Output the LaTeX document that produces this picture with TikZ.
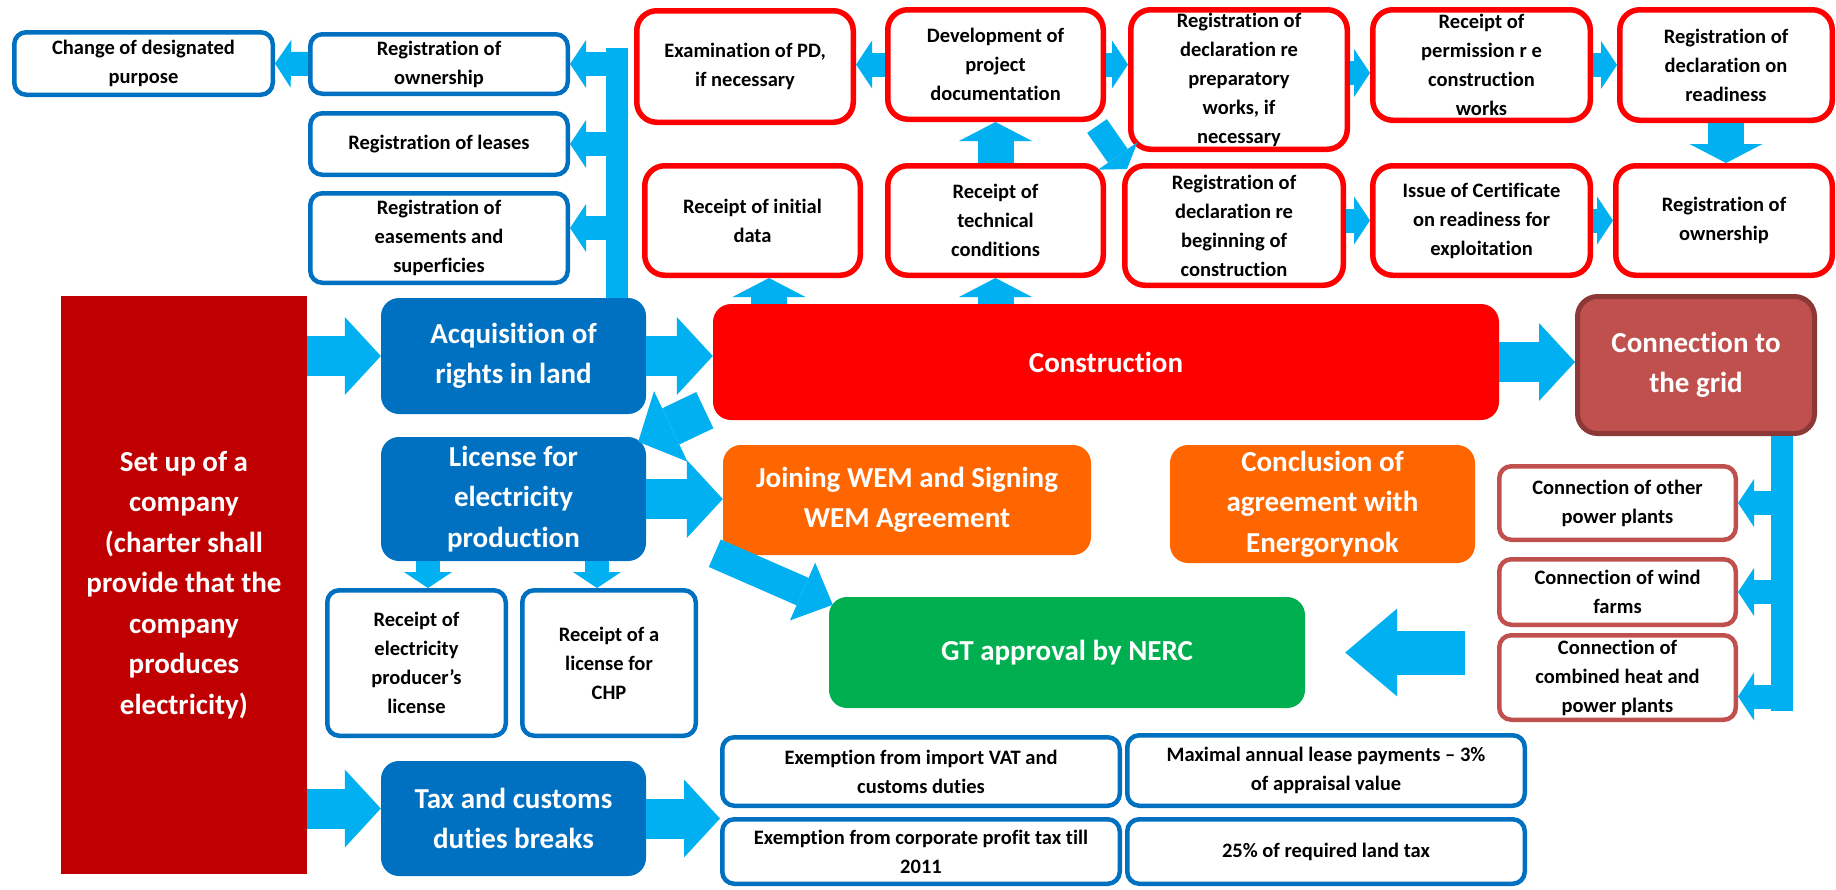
\documentclass[tikz,border=0pt]{standalone}
\usepackage{fontspec}
\setmainfont{Carlito}[Ligatures={TeX,NoCommon}]
\usetikzlibrary{arrows.meta}

\definecolor{landblue}{HTML}{0070C0}
\definecolor{flowblue}{HTML}{00B0F0}
\definecolor{buildred}{HTML}{FF0000}
\definecolor{firmred}{HTML}{C00000}
\definecolor{gridred}{HTML}{C0504D}
\definecolor{gridedge}{HTML}{8C3836}
\definecolor{wemorange}{HTML}{FF6600}
\definecolor{nercgreen}{HTML}{00B050}

\newcommand{\boxtext}{\fontsize{20.5}{29}\selectfont\bfseries}
\newcommand{\headtext}{\fontsize{29}{40.5}\selectfont\bfseries}

\tikzset{
	plainbox/.style={rectangle, inner sep=0pt, align=center},
	blueline/.style={plainbox, draw=landblue, line width=4.5pt, rounded corners=12pt, fill=white, font=\boxtext},
	redline/.style={plainbox, draw=buildred, line width=5.5pt, rounded corners=20pt, fill=white, font=\boxtext},
	gridline/.style={plainbox, draw=gridred, line width=4.5pt, rounded corners=12pt, fill=white, font=\boxtext},
	headbox/.style={plainbox, fill=#1, rounded corners=18pt, text=white, font=\headtext},
	flowbar/.style={flowblue, line width=22pt},
	smallflow/.style={flowblue, line width=24pt, -{Triangle[length=16pt, width=48pt, line width=0pt]}},
	upflow/.style={flowblue, line width=36pt, -{Triangle[length=19pt, width=73pt, line width=0pt]}},
	midflow/.style={flowblue, line width=30pt, -{Triangle[length=33pt, width=63pt, line width=0pt]}},
	bigflow/.style={flowblue, line width=40pt, -{Triangle[length=36pt, width=78pt, line width=0pt]}},
	hugeflow/.style={flowblue, line width=44pt, -{Triangle[length=52pt, width=88pt, line width=0pt]}}
}

\begin{document}
\begin{tikzpicture}[x=1pt, y=-1pt]
	\useasboundingbox (0,0) rectangle (1836,889);

	\node [plainbox, fill=firmred, text=white, font=\headtext, minimum width=246pt, minimum height=578pt] (setup) at (184, 585) {Set up of a\\company\\(charter shall\\provide that the\\company\\produces\\electricity)};

	\node [headbox=landblue, minimum width=265pt, minimum height=116pt] (acq) at (513.5, 356) {Acquisition of\\rights in land};
	\node [headbox=landblue, minimum width=265pt, minimum height=124pt] (lic) at (513.5, 499) {License for\\electricity\\production};
	\node [headbox=landblue, minimum width=265pt, minimum height=115pt] (tax) at (513.5, 818.5) {Tax and customs\\duties breaks};

	\node [blueline, minimum width=258.5pt, minimum height=62.5pt] (chg) at (143.5, 63.5) {Change of designated\\purpose};
	\node [blueline, minimum width=257.5pt, minimum height=59.5pt] (regown) at (439, 64) {Registration of\\ownership};
	\node [blueline, minimum width=257.5pt, minimum height=61.5pt] (regls) at (439, 144) {Registration of leases};
	\node [blueline, minimum width=257.5pt, minimum height=89.5pt] (regeas) at (439, 238) {Registration of\\easements and\\superficies};
	\node [blueline, minimum width=178.5pt, minimum height=145.5pt] (rprod) at (416.5, 663) {Receipt of\\electricity\\producer’s\\license};
	\node [blueline, minimum width=173.5pt, minimum height=145.5pt] (rchp) at (609, 663) {Receipt of a\\license for\\CHP};

	\node [blueline, minimum width=397.5pt, minimum height=68.5pt] (exvat) at (921, 771.5) {Exemption from import VAT and\\customs duties};
	\node [blueline, minimum width=397.5pt, minimum height=70.5pt] (exlease) at (1326, 770.5) {Maximal annual lease payments – 3\%\\of appraisal value};
	\node [blueline, minimum width=397.5pt, minimum height=64.5pt] (excorp) at (921, 851.5) {Exemption from corporate profit tax till\\2011};
	\node [blueline, minimum width=397.5pt, minimum height=64.5pt] (exland) at (1326, 851.5) {25\% of required land tax};

	\node [redline, minimum width=216.5pt, minimum height=111.5pt] (exam) at (745, 66.5) {Examination of PD,\\if necessary};
	\node [redline, minimum width=215.5pt, minimum height=109.5pt] (dev) at (995.5, 64.5) {Development of\\project\\documentation};
	\node [redline, minimum width=216.5pt, minimum height=139.5pt] (prep) at (1239, 79.5) {Registration of\\declaration re\\preparatory\\works, if\\necessary};
	\node [redline, minimum width=217.5pt, minimum height=110.5pt] (perm) at (1481.5, 65) {Receipt of\\permission r e\\construction\\works};
	\node [redline, minimum width=212.5pt, minimum height=110.5pt] (ready) at (1726, 65) {Registration of\\declaration on\\readiness};
	\node [redline, minimum width=215.5pt, minimum height=109.5pt] (rinit) at (752.5, 220.5) {Receipt of initial\\data};
	\node [redline, minimum width=215.5pt, minimum height=109.5pt] (rtech) at (995.5, 220.5) {Receipt of\\technical\\conditions};
	\node [redline, minimum width=218.5pt, minimum height=119.5pt] (rbegin) at (1234, 225.5) {Registration of\\declaration re\\beginning of\\construction};
	\node [redline, minimum width=217.5pt, minimum height=109.5pt] (issue) at (1481.5, 220.5) {Issue of Certificate\\on readiness for\\exploitation};
	\node [redline, minimum width=216.5pt, minimum height=109.5pt] (regfin) at (1724, 220.5) {Registration of\\ownership};

	\node [headbox=buildred, minimum width=786pt, minimum height=116pt] (constr) at (1106, 362) {Construction};
	\node [headbox=gridred, draw=gridedge, line width=5pt, rounded corners=20pt, minimum width=237pt, minimum height=137pt] (conn) at (1696, 365) {Connection to\\the grid};
	\node [headbox=wemorange, minimum width=368pt, minimum height=110pt] (wem) at (907, 500) {Joining WEM and Signing\\WEM Agreement};
	\node [headbox=wemorange, minimum width=305pt, minimum height=118pt] (concl) at (1322.5, 504) {Conclusion of\\agreement with\\Energorynok};
	\node [headbox=nercgreen, minimum width=476pt, minimum height=111pt] (gt) at (1067, 652.5) {GT approval by NERC};

	\node [gridline, minimum width=236.5pt, minimum height=73.5pt] (cother) at (1617.5, 503) {Connection of other\\power plants};
	\node [gridline, minimum width=236.5pt, minimum height=65.5pt] (cwind) at (1617.5, 592) {Connection of wind\\farms};
	\node [gridline, minimum width=236.5pt, minimum height=84.5pt] (cchp) at (1617.5, 677.5) {Connection of\\combined heat and\\power plants};

	\coordinate (ltop) at (617, 48);
	\coordinate (rbot) at (1782, 711);
	\coordinate (easarr) at ([yshift=10pt]regeas.east);
	\coordinate (chparr) at ([yshift=-19pt]cchp.east);
	\coordinate (taxarr) at ([yshift=10pt]tax.west);

	\draw [flowbar] (acq.north -| ltop) -- (ltop);
	\draw [smallflow] (ltop |- regown.east) -- (regown.east);
	\draw [smallflow] (ltop |- regls.east) -- (regls.east);
	\draw [smallflow] (ltop |- easarr) -- (easarr);
	\draw [smallflow] (regown.west) -- (chg.east);

	\draw [flowbar] (conn.south -| rbot) -- (rbot);
	\draw [smallflow] (rbot |- cother.east) -- (cother.east);
	\draw [smallflow] (rbot |- cwind.east) -- (cwind.east);
	\draw [smallflow] (rbot |- chparr) -- (chparr);

	\draw [bigflow] (setup.east |- acq.west) -- (acq.west);
	\draw [bigflow] (setup.east |- taxarr) -- (taxarr);
	\draw [bigflow] (acq.east) -- (acq.east -| constr.west);
	\draw [bigflow] (lic.east) -- (lic.east -| wem.west);
	\draw [bigflow] (tax.east) -- (tax.east -| exvat.west);
	\draw [bigflow] (constr.east) -- (constr.east -| conn.west);
	\draw [bigflow] ([xshift=-8pt, yshift=10pt]constr.south west) -- ([xshift=-8pt, yshift=-5pt]lic.north east);
	\draw [midflow] ([xshift=-8pt, yshift=2pt]wem.south west) -- ([xshift=4pt, yshift=-8pt]gt.north west);
	\draw [hugeflow, shorten <=32pt, shorten >=40pt] (cwind.west |- gt.east) -- (gt.east);

	\draw [smallflow] (lic.south -| 428,0) -- (rprod.north -| 428,0);
	\draw [smallflow] (lic.south -| 597,0) -- (rchp.north -| 597,0);

	\draw [upflow] (constr.north -| 769,0) -- (rinit.south -| 769,0);
	\draw [upflow] (constr.north -| rtech.south) -- (rtech.south);
	\draw [upflow] (rtech.north) -- (dev.south);

	\draw [smallflow] (dev.west) -- (dev.west -| exam.east);
	\draw [smallflow] (dev.east) -- (dev.east -| prep.west);
	\draw [smallflow] (prep.east |- 0,73) -- (perm.west |- 0,73);
	\draw [smallflow] (perm.east) -- (perm.east -| ready.west);
	\draw [upflow] (ready.south) -- (ready.south |- regfin.north);
	\draw [smallflow] (rbegin.east |- issue.west) -- (issue.west);
	\draw [smallflow] (issue.east) -- (issue.east -| regfin.west);
	\draw [smallflow] ([xshift=-9pt, yshift=-4pt]dev.south east) -- ([xshift=5pt, yshift=-6pt]rbegin.north west);
\end{tikzpicture}
\end{document}
